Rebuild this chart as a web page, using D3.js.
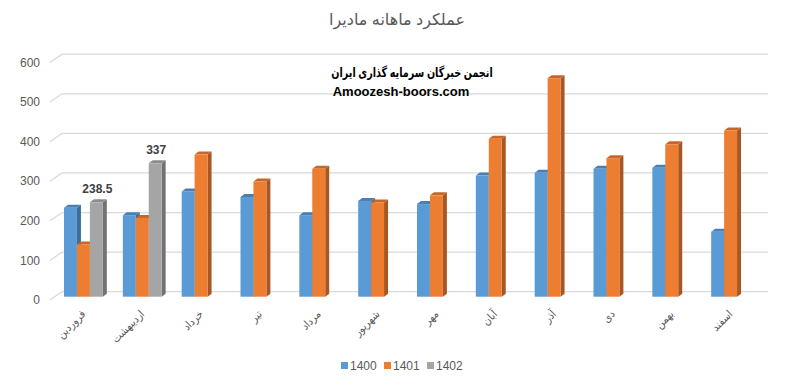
<!DOCTYPE html>
<html lang="fa">
  <head>
    <meta charset="UTF-8" />
    <title>عملکرد ماهانه مادیرا</title>
    <style>
      body {
        margin: 0;
        background: #fff;
      }
      svg text {
        font-family: "Liberation Sans", "DejaVu Sans", sans-serif;
      }
    </style>
  </head>
  <body>
    <div id="chart"></div>
    <script src="https://cdn.jsdelivr.net/npm/d3@7/dist/d3.min.js"></script>
    <script>
      // months (Persian calendar)
      var months = [
        "فروردین", "اردیبهشت", "خرداد", "تیر", "مرداد", "شهریور",
        "مهر", "آبان", "آذر", "دی", "بهمن", "اسفند"
      ];
      var seriesNames = ["1400", "1401", "1402"];

      var values1400 = [225, 206, 266, 252, 206, 242, 234, 306, 313, 323, 326, 164];
      var values1401 = [132, 199, 359, 291, 323, 238, 256, 399, 552, 350, 385, 420];
      var values1402 = [238.5, 337, null, null, null, null, null, null, null, null, null, null];

      var yTicks = [0, 100, 200, 300, 400, 500, 600];

      var width = 799,
        height = 386;

      var colors = {
        "1400": { front: "#5b9bd5", top: "#4a7fb2", side: "#3e6d9a" },
        "1401": { front: "#ed7d31", top: "#c8662a", side: "#a85622" },
        "1402": { front: "#a5a5a5", top: "#8c8c8c", side: "#737373" }
      };

      var svg = d3
        .select("#chart")
        .append("svg")
        .attr("width", width)
        .attr("height", height);

      //Scales
      var x0 = d3.scaleBand().domain(months).range([54, 760]);
      var x1 = d3
        .scaleBand()
        .domain(seriesNames)
        .range([10, x0.bandwidth() - 10]);

      var yFront = d3.scaleLinear().domain([0, 600]).range([300, 62.5]);

      var wallDx = 12,
        wallDy = 8.3;
      var barDy = 3.3; // bars sit a little behind the front edge
      var depthX = 4,
        depthY = 3;

      //gridlines with the slanted floor edge
      svg
        .append("g")
        .selectAll("path")
        .data(yTicks)
        .enter()
        .append("path")
        .attr("d", function (d) {
          var y = yFront(d);
          return (
            "M50," + y + "L" + (50 + wallDx) + "," + (y - wallDy) + "L768," + (y - wallDy)
          );
        })
        .attr("fill", "none")
        .attr("stroke", "#d9d9d9")
        .attr("stroke-width", 1.3);

      //y labels
      svg
        .append("g")
        .selectAll("text")
        .data(yTicks)
        .enter()
        .append("text")
        .attr("x", 40)
        .attr("y", function (d) {
          return yFront(d);
        })
        .attr("dy", "0.35em")
        .attr("text-anchor", "end")
        .attr("fill", "#595959")
        .style("font-size", "12px")
        .text(function (d) {
          return d;
        });

      //bar data
      var allSeries = [values1400, values1401, values1402];
      var barData = [];
      months.forEach(function (m, i) {
        seriesNames.forEach(function (s, j) {
          var v = allSeries[j][i];
          if (v != null) barData.push({ month: m, series: s, value: v });
        });
      });

      var bars = svg
        .append("g")
        .selectAll("g")
        .data(barData)
        .enter()
        .append("g");

      function geom(d) {
        var x = x0(d.month) + x1(d.series);
        var w = x1.bandwidth();
        var base = yFront(0) - barDy;
        var top = yFront(d.value) - barDy;
        return { x: x, w: w, base: base, top: top };
      }

      bars
        .append("path")
        .attr("d", function (d) {
          var g = geom(d);
          return (
            "M" + (g.x + g.w) + "," + g.top +
            "L" + (g.x + g.w + depthX) + "," + (g.top - depthY) +
            "L" + (g.x + g.w + depthX) + "," + (g.base - depthY) +
            "L" + (g.x + g.w) + "," + g.base + "Z"
          );
        })
        .attr("fill", function (d) {
          return colors[d.series].side;
        });

      bars
        .append("path")
        .attr("d", function (d) {
          var g = geom(d);
          return (
            "M" + g.x + "," + g.top +
            "L" + (g.x + depthX) + "," + (g.top - depthY) +
            "L" + (g.x + g.w + depthX) + "," + (g.top - depthY) +
            "L" + (g.x + g.w) + "," + g.top + "Z"
          );
        })
        .attr("fill", function (d) {
          return colors[d.series].top;
        });

      bars
        .append("rect")
        .attr("x", function (d) {
          return geom(d).x;
        })
        .attr("y", function (d) {
          return geom(d).top;
        })
        .attr("width", function (d) {
          return geom(d).w;
        })
        .attr("height", function (d) {
          var g = geom(d);
          return g.base - g.top;
        })
        .attr("fill", function (d) {
          return colors[d.series].front;
        });

      //data labels on 1402
      svg
        .append("g")
        .selectAll("text")
        .data(
          barData.filter(function (d) {
            return d.series == "1402";
          })
        )
        .enter()
        .append("text")
        .attr("x", function (d) {
          var g = geom(d);
          return g.x + g.w / 2 + 1;
        })
        .attr("y", function (d) {
          return geom(d).top - 9;
        })
        .attr("text-anchor", "middle")
        .attr("fill", "#404040")
        .style("font-size", "12px")
        .style("font-weight", "bold")
        .text(function (d) {
          return d.value;
        });

      //month labels
      svg
        .append("g")
        .selectAll("text")
        .data(months)
        .enter()
        .append("text")
        .attr("transform", function (d) {
          return (
            "translate(" + (x0(d) + x0.bandwidth() / 2) + ",312) rotate(-45) scale(0.9,1)"
          );
        })
        .attr("text-anchor", "end")
        .attr("dy", "0.35em")
        .attr("fill", "#595959")
        .style("font-size", "11px")
        .text(function (d) {
          return d;
        });

      //title
      svg
        .append("text")
        .attr("x", 397)
        .attr("y", 25)
        .attr("text-anchor", "middle")
        .attr("fill", "#595959")
        .style("font-size", "16px")
        .text("عملکرد ماهانه مادیرا");

      //watermark (first line squeezed to match the narrow original font)
      svg
        .append("text")
        .attr("transform", "translate(412,77) scale(0.74,1)")
        .attr("text-anchor", "middle")
        .attr("fill", "#000")
        .style("font-size", "13px")
        .style("font-weight", "bold")
        .text("انجمن خبرگان سرمایه گذاری ایران");

      svg
        .append("text")
        .attr("x", 401)
        .attr("y", 96)
        .attr("text-anchor", "middle")
        .attr("fill", "#000")
        .style("font-size", "13px")
        .style("font-weight", "bold")
        .text("Amoozesh-boors.com");

      //legend
      var legend = svg
        .append("g")
        .selectAll("g")
        .data(seriesNames)
        .enter()
        .append("g")
        .attr("transform", function (d, i) {
          return "translate(" + (341 + i * 43) + ",366)";
        });

      legend
        .append("rect")
        .attr("x", 0)
        .attr("y", -4)
        .attr("width", 7)
        .attr("height", 7)
        .attr("fill", function (d) {
          return colors[d].front;
        });

      legend
        .append("text")
        .attr("x", 9)
        .attr("y", 0)
        .attr("dy", "0.35em")
        .attr("fill", "#595959")
        .style("font-size", "12px")
        .text(function (d) {
          return d;
        });
    </script>
  </body>
</html>
